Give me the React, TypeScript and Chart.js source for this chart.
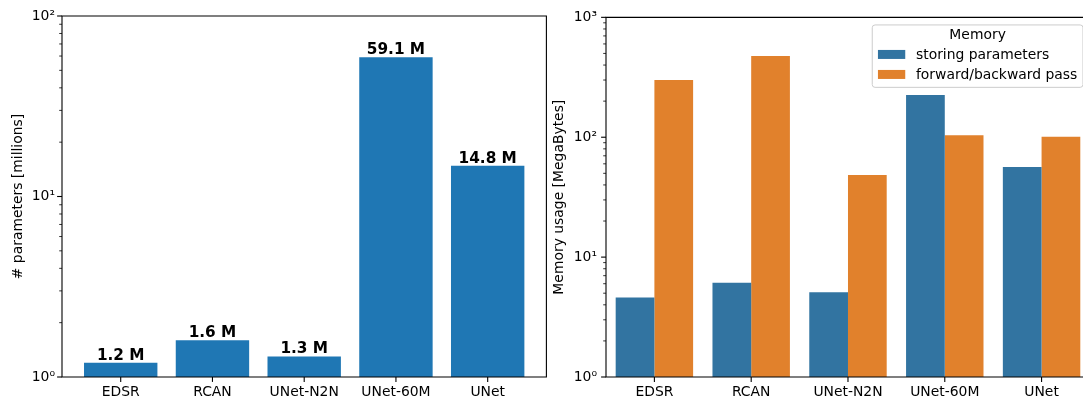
import { useEffect, useRef } from 'react';
import { Chart, registerables } from 'chart.js';

Chart.register(...registerables);

// ---- data ----
const models = ['EDSR', 'RCAN', 'UNet-N2N', 'UNet-60M', 'UNet'];
const paramsMillions = [1.2, 1.6, 1.3, 59.1, 14.8];
const memorySeries = ['storing parameters', 'forward/backward pass'];
const memoryStoringMB = [4.6, 6.1, 5.1, 225, 56.5];
const memoryPassMB = [300, 475, 48.5, 104, 101];
const paramDecades = [1, 10, 100];
const memoryDecades = [1, 10, 100, 1000];

// ---- style ----
const FONT_FAMILY = 'DejaVu Sans';
const FONT_SIZE = 13.9;
const LABEL_SIZE = 15.3;
const PARAM_BLUE = '#1f77b4';
const STORE_BLUE = '#3274a1';
const PASS_ORANGE = '#e1812c';
const SUPERSCRIPTS = ['⁰', '¹', '²', '³', '⁴'];

const baseFont = { family: FONT_FAMILY, size: FONT_SIZE, lineHeight: 1.2 };

const isDecade = (v: number) => Math.abs(Math.log10(v) - Math.round(Math.log10(v))) < 1e-9;

// log ticks: every decade plus the 2..9 minor steps between them
function logTicks(decades: number[]) {
  const out: { value: number; major: boolean }[] = [];
  decades.forEach((d, i) => {
    if (i === decades.length - 1) {
      out.push({ value: d, major: true });
      return;
    }
    for (let m = 1; m <= 9; m++) out.push({ value: d * m, major: m === 1 });
  });
  return out;
}

const decadeLabel = (v: number) =>
  isDecade(v) ? '10' + SUPERSCRIPTS[Math.round(Math.log10(v))] : '';

const categoryTicks = (s: any) => {
  s.ticks = models.map((_, i) => ({ value: i }));
};
const categoryLabel = (v: any) => models[Math.round(Number(v))] ?? '';

// spines and tick marks drawn in the matplotlib manner
const axisFrame = {
  id: 'axisFrame',
  afterDraw(chart: any, _args: any, opts: any) {
    const { ctx, chartArea: a, scales } = chart;
    const xs = scales.x;
    const ys = scales.y;
    ctx.save();
    ctx.strokeStyle = '#000';
    ys.ticks.forEach((t: any) => {
      const py = ys.getPixelForValue(t.value);
      const major = isDecade(t.value);
      ctx.lineWidth = major ? 1.1 : 0.8;
      ctx.beginPath();
      ctx.moveTo(a.left - (major ? 4.9 : 2.8), py);
      ctx.lineTo(a.left, py);
      ctx.stroke();
    });
    xs.ticks.forEach((t: any) => {
      const px = xs.getPixelForValue(t.value);
      ctx.lineWidth = 1.1;
      ctx.beginPath();
      ctx.moveTo(px, a.bottom);
      ctx.lineTo(px, a.bottom + 4.9);
      ctx.stroke();
    });
    ctx.lineWidth = 1.1;
    ctx.lineCap = 'square';
    ctx.beginPath();
    ctx.moveTo(a.right, a.top);
    ctx.lineTo(a.left, a.top);
    ctx.lineTo(a.left, a.bottom);
    ctx.lineTo(a.right, a.bottom);
    if (opts.rightSpine !== false) ctx.lineTo(a.right, a.top);
    ctx.stroke();
    ctx.restore();
  },
};

// bold value labels above the parameter bars
const paramLabels = {
  id: 'paramLabels',
  afterDatasetsDraw(chart: any) {
    const { ctx } = chart;
    const meta = chart.getDatasetMeta(0);
    ctx.save();
    ctx.font = `bold ${LABEL_SIZE}px "${FONT_FAMILY}"`;
    ctx.fillStyle = '#000';
    ctx.textAlign = 'center';
    ctx.textBaseline = 'alphabetic';
    meta.data.forEach((bar: any, i: number) => {
      ctx.fillText(`${paramsMillions[i].toFixed(1)} M`, bar.x, bar.y - 3);
    });
    ctx.restore();
  },
};

// legend box with title in the upper right of the memory plot
const memoryLegend = {
  id: 'memoryLegend',
  afterDraw(chart: any) {
    const { ctx, chartArea: a, scales } = chart;
    const colors = [STORE_BLUE, PASS_ORANGE];
    ctx.save();
    ctx.font = `${FONT_SIZE}px "${FONT_FAMILY}"`;
    const textW = Math.max(...memorySeries.map((s) => ctx.measureText(s).width));
    const pad = 5.7;
    const handle = 27.3;
    const gap = 10.7;
    // anchored to the full axis extent, which runs past the visible edge
    const right = scales.x.getPixelForValue(models.length - 0.5) - 7;
    const width = pad + handle + gap + textW + pad;
    const left = right - width;
    const top = a.top + 7.6;
    const height = 62.4;
    const r = 2.8;
    ctx.beginPath();
    ctx.moveTo(left + r, top);
    ctx.lineTo(right - r, top);
    ctx.arcTo(right, top, right, top + r, r);
    ctx.lineTo(right, top + height - r);
    ctx.arcTo(right, top + height, right - r, top + height, r);
    ctx.lineTo(left + r, top + height);
    ctx.arcTo(left, top + height, left, top + height - r, r);
    ctx.lineTo(left, top + r);
    ctx.arcTo(left, top, left + r, top, r);
    ctx.closePath();
    ctx.fillStyle = 'rgba(255,255,255,0.8)';
    ctx.fill();
    ctx.strokeStyle = '#cccccc';
    ctx.lineWidth = 1;
    ctx.stroke();

    ctx.fillStyle = '#000';
    ctx.textBaseline = 'middle';
    ctx.textAlign = 'center';
    ctx.fillText('Memory', left + width / 2, top + 10.5);
    ctx.textAlign = 'left';
    memorySeries.forEach((s, i) => {
      const cy = top + 29.5 + i * 20;
      ctx.fillStyle = colors[i];
      ctx.fillRect(left + pad, cy - 4.5, handle, 9);
      ctx.fillStyle = '#000';
      ctx.fillText(s, left + pad + handle + gap, cy + 0.5);
    });
    ctx.restore();
  },
};

function ParamsChart() {
  const ref = useRef<HTMLCanvasElement>(null);
  useEffect(() => {
    const chart = new Chart(ref.current!, {
      type: 'bar',
      data: {
        datasets: [
          {
            data: paramsMillions.map((v, i) => ({ x: i, y: v })),
            backgroundColor: PARAM_BLUE,
            categoryPercentage: 1,
            barPercentage: 0.8,
          },
        ],
      },
      options: {
        animation: false,
        responsive: false,
        maintainAspectRatio: false,
        layout: { padding: { top: 16, right: 9.6, left: 0, bottom: 0 } },
        plugins: { legend: { display: false }, tooltip: { enabled: false } },
        scales: {
          x: {
            type: 'linear',
            offset: false,
            min: -0.64,
            max: 4.64,
            grid: { display: false, drawTicks: false, offset: false },
            border: { display: false },
            afterBuildTicks: categoryTicks,
            afterFit: (s: any) => {
              s.height = 21;
            },
            ticks: {
              autoSkip: false,
              maxRotation: 0,
              padding: 7,
              color: '#000',
              font: baseFont,
              callback: categoryLabel,
            },
          },
          y: {
            type: 'logarithmic',
            min: 1,
            max: 100,
            grid: { display: false, drawTicks: false },
            border: { display: false },
            afterBuildTicks: (s: any) => {
              s.ticks = logTicks(paramDecades);
            },
            afterFit: (s: any) => {
              s.width = 62;
            },
            ticks: {
              autoSkip: false,
              padding: 7,
              color: '#000',
              font: baseFont,
              callback: (v: any) => decadeLabel(Number(v)),
            },
            title: {
              display: true,
              text: '# parameters [millions]',
              color: '#000',
              font: baseFont,
              padding: { top: 10, bottom: 0 },
            },
          },
        },
      },
      plugins: [axisFrame, paramLabels],
    } as any);
    return () => chart.destroy();
  }, []);
  return (
    <canvas
      ref={ref}
      width={556}
      height={398}
      style={{ position: 'absolute', left: 0, top: 0, width: 556, height: 398 }}
    />
  );
}

function MemoryChart() {
  const ref = useRef<HTMLCanvasElement>(null);
  useEffect(() => {
    const chart = new Chart(ref.current!, {
      type: 'bar',
      data: {
        datasets: [
          {
            label: memorySeries[0],
            data: memoryStoringMB.map((v, i) => ({ x: i, y: v })),
            backgroundColor: STORE_BLUE,
            categoryPercentage: 0.8,
            barPercentage: 1,
          },
          {
            label: memorySeries[1],
            data: memoryPassMB.map((v, i) => ({ x: i, y: v })),
            backgroundColor: PASS_ORANGE,
            categoryPercentage: 0.8,
            barPercentage: 1,
          },
        ],
      },
      options: {
        animation: false,
        responsive: false,
        maintainAspectRatio: false,
        layout: { padding: { top: 16, right: 0, left: 0, bottom: 0 } },
        plugins: {
          legend: { display: false },
          tooltip: { enabled: false },
          axisFrame: { rightSpine: false },
        },
        scales: {
          x: {
            type: 'linear',
            offset: false,
            // the right end of the axis is cut off by the figure edge
            min: -0.5,
            max: 4.428,
            grid: { display: false, drawTicks: false, offset: false },
            border: { display: false },
            afterBuildTicks: categoryTicks,
            afterFit: (s: any) => {
              s.height = 21;
            },
            ticks: {
              autoSkip: false,
              maxRotation: 0,
              padding: 7,
              color: '#000',
              font: baseFont,
              callback: categoryLabel,
            },
          },
          y: {
            type: 'logarithmic',
            min: 1,
            max: 1000,
            grid: { display: false, drawTicks: false },
            border: { display: false },
            afterBuildTicks: (s: any) => {
              s.ticks = logTicks(memoryDecades);
            },
            afterFit: (s: any) => {
              s.width = 66;
            },
            ticks: {
              autoSkip: false,
              padding: 9,
              color: '#000',
              font: baseFont,
              callback: (v: any) => decadeLabel(Number(v)),
            },
            title: {
              display: true,
              text: 'Memory usage [MegaBytes]',
              color: '#000',
              font: baseFont,
              padding: { top: 11, bottom: 0 },
            },
          },
        },
      },
      plugins: [axisFrame, memoryLegend],
    } as any);
    return () => chart.destroy();
  }, []);
  return (
    <canvas
      ref={ref}
      width={543}
      height={398}
      style={{ position: 'absolute', left: 540, top: 0, width: 543, height: 398 }}
    />
  );
}

export default function App() {
  return (
    <div
      style={{
        position: 'absolute',
        left: 0,
        top: 0,
        width: 1083,
        height: 398,
        overflow: 'hidden',
        background: '#fff',
      }}
    >
      <ParamsChart />
      <MemoryChart />
    </div>
  );
}
